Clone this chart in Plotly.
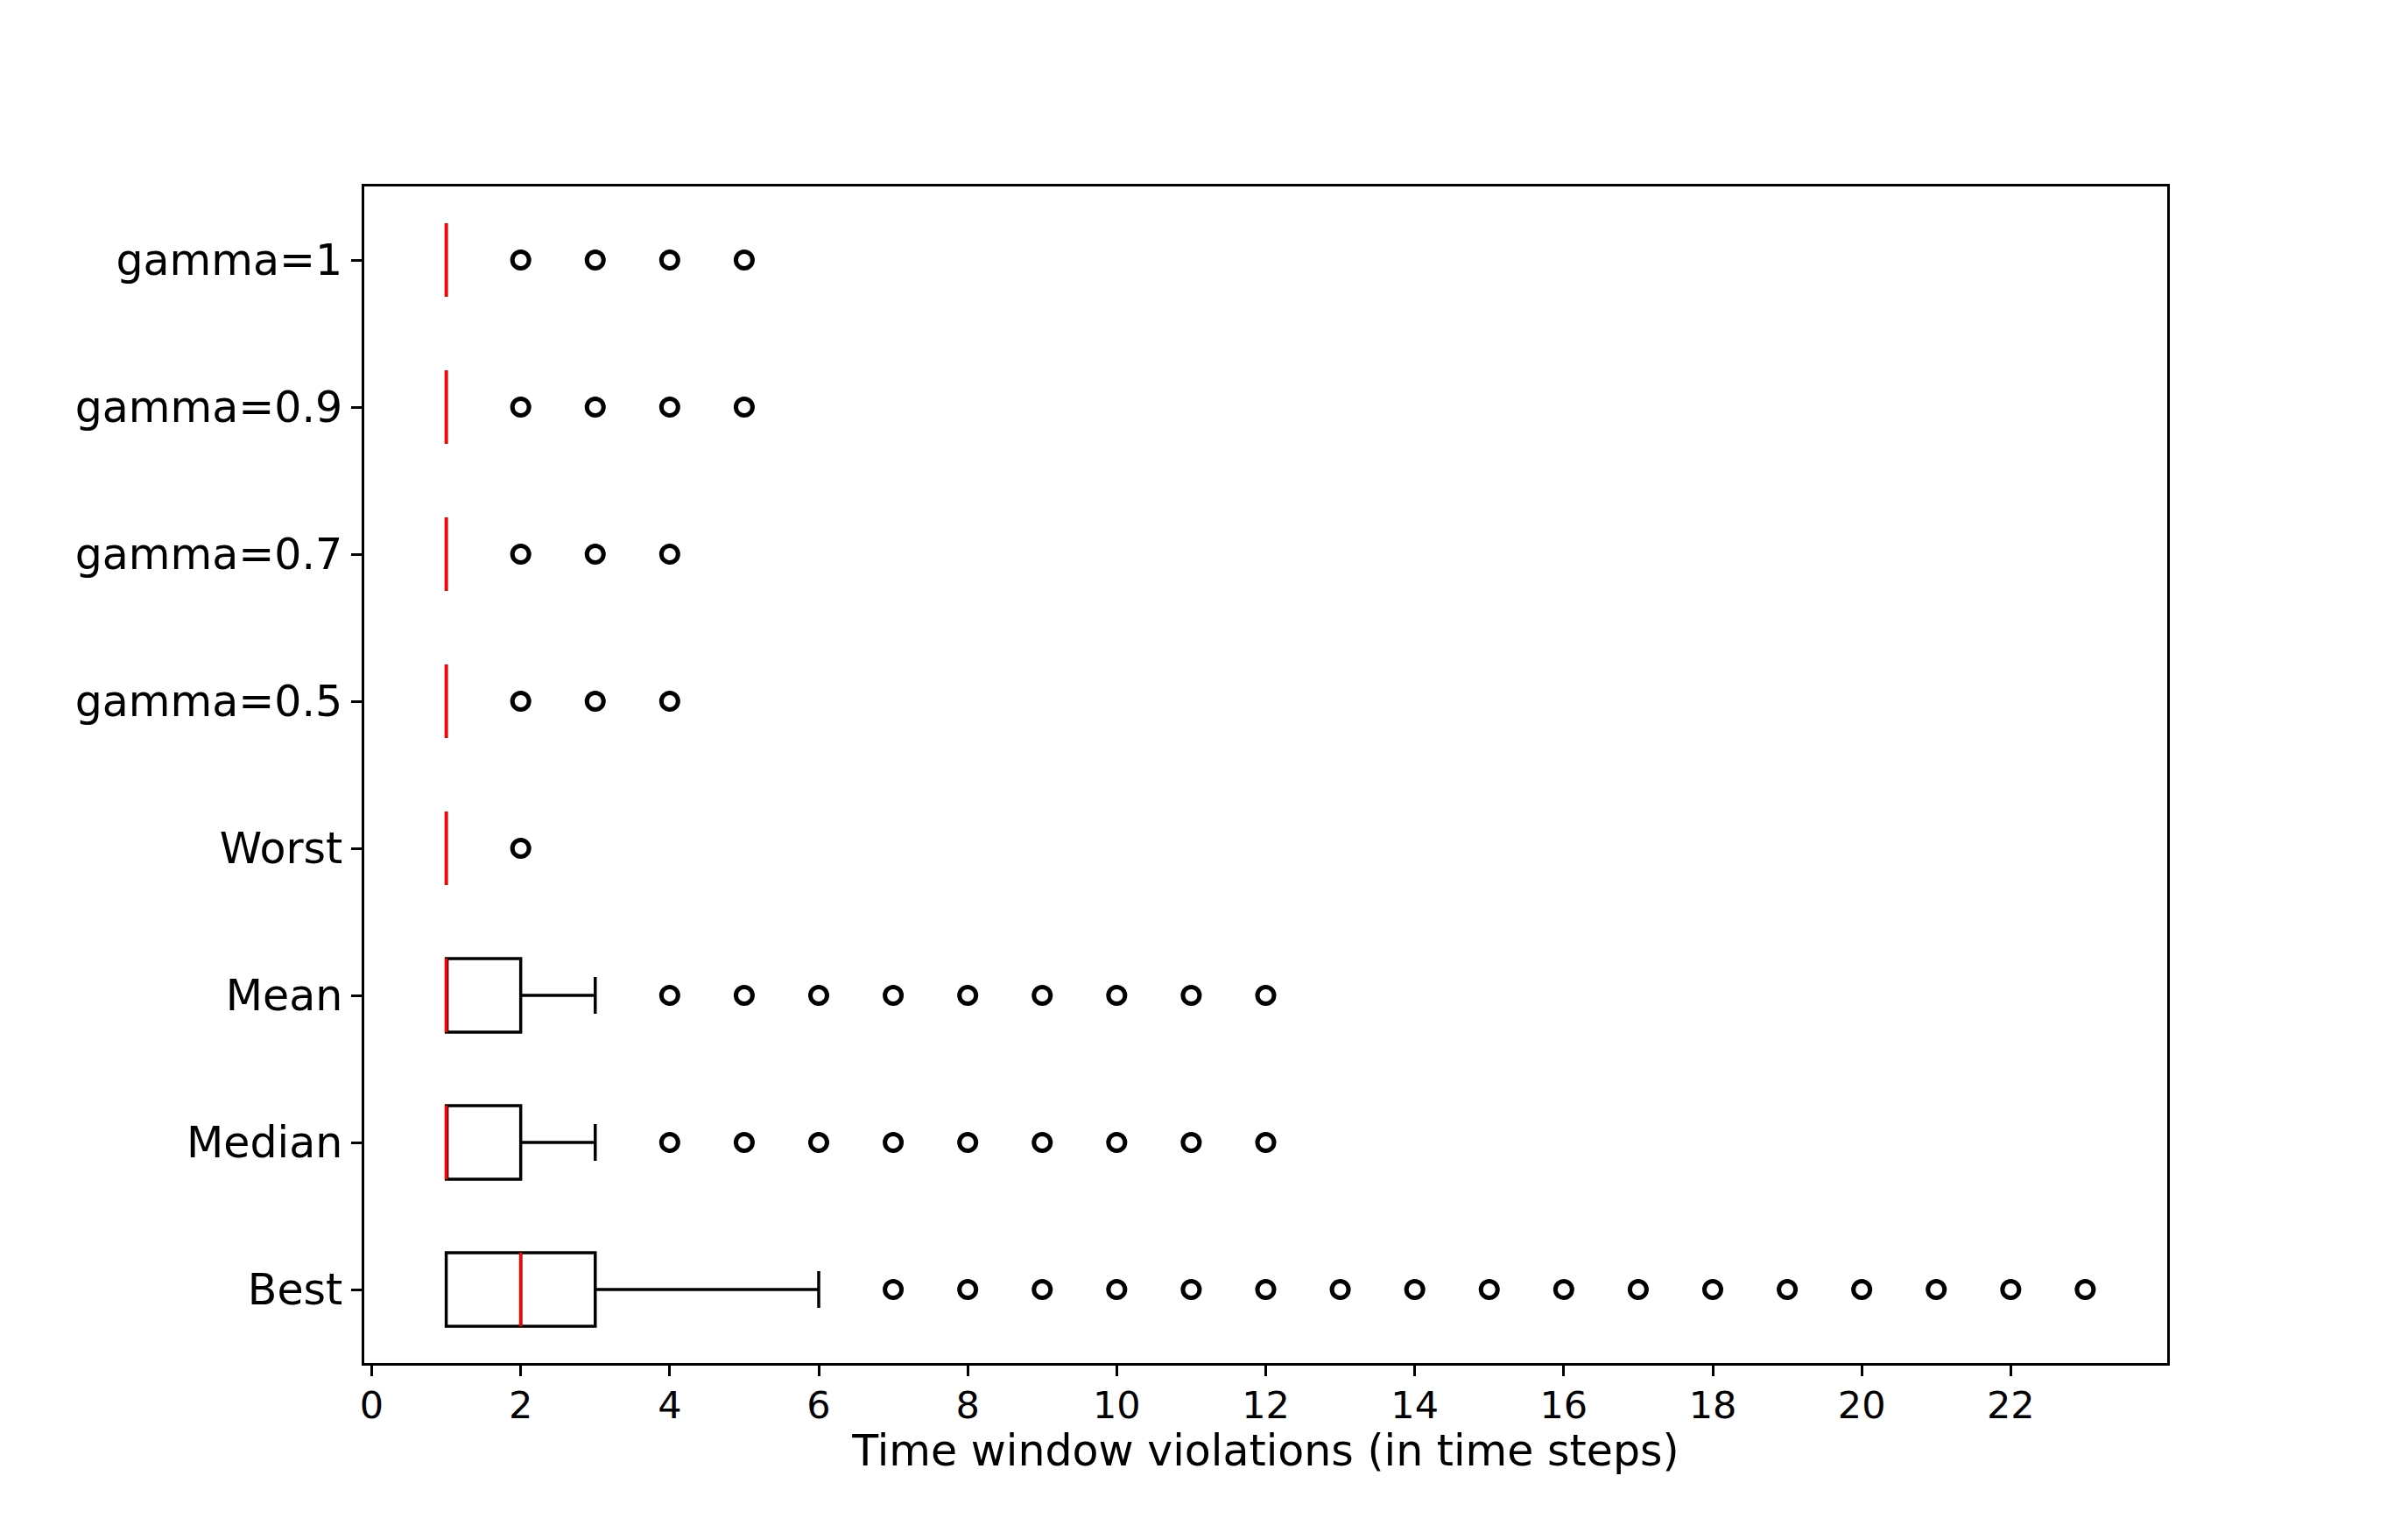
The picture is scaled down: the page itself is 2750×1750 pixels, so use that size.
import plotly.graph_objects as go

# Categorias (de baixo para cima, como no boxplot original)
categorias = ["Best", "Median", "Mean", "Worst", "gamma=0.5", "gamma=0.7", "gamma=0.9", "gamma=1"]
posicoes = [1, 2, 3, 4, 5, 6, 7, 8]

# Estatisticas das caixas
q1 = [1, 1, 1, 1, 1, 1, 1, 1]
mediana = [2, 1, 1, 1, 1, 1, 1, 1]
q3 = [3, 2, 2, 1, 1, 1, 1, 1]
whisk_inf = [1, 1, 1, 1, 1, 1, 1, 1]
whisk_sup = [6, 3, 3, 1, 1, 1, 1, 1]

# Outliers de cada categoria
outliers = [
    [7, 8, 9, 10, 11, 12, 13, 14, 15, 16, 17, 18, 19, 20, 21, 22, 23],
    [4, 5, 6, 7, 8, 9, 10, 11, 12],
    [4, 5, 6, 7, 8, 9, 10, 11, 12],
    [2],
    [2, 3, 4],
    [2, 3, 4],
    [2, 3, 4, 5],
    [2, 3, 4, 5],
]

xticks = list(range(0, 23, 2))
LARGURA = 0.5

fig = go.Figure()

for i, pos in enumerate(posicoes):
    fig.add_trace(go.Box(
        y=[pos], q1=[q1[i]], median=[mediana[i]], q3=[q3[i]],
        lowerfence=[whisk_inf[i]], upperfence=[whisk_sup[i]],
        orientation="h", width=LARGURA, whiskerwidth=0.5,
        fillcolor="rgba(0,0,0,0)", line=dict(color="black", width=3.5),
        boxpoints=False, showlegend=False, hoverinfo="skip",
    ))

# linha da mediana em vermelho
mx, my = [], []
for pos, m in zip(posicoes, mediana):
    mx += [m, m, None]
    my += [pos - LARGURA / 2, pos + LARGURA / 2, None]
fig.add_trace(go.Scatter(x=mx, y=my, mode="lines", line=dict(color="#ff0000", width=3.5),
                         showlegend=False, hoverinfo="skip"))

# outliers
for pos, vals in zip(posicoes, outliers):
    fig.add_trace(go.Scatter(
        x=vals, y=[pos] * len(vals), mode="markers",
        marker=dict(symbol="circle", size=19, color="rgba(0,0,0,0)",
                    line=dict(width=5, color="black")),
        showlegend=False,
    ))

fig.update_layout(
    width=2750, height=1750,
    margin=dict(l=408, r=283, t=205, b=201, pad=0),
    plot_bgcolor="white", paper_bgcolor="white",
    font=dict(family="DejaVu Sans", color="black"),
)
fig.update_xaxes(
    range=[-0.1, 24.1], tickvals=xticks, ticks="outside", ticklen=12, tickwidth=2.8,
    tickcolor="black", showline=True, linecolor="black", linewidth=2.8, mirror=True,
    showgrid=False, zeroline=False, tickfont=dict(size=43), ticklabelstandoff=-4,
    title=dict(text="Time window violations (in time steps)", font=dict(size=49), standoff=6),
)
fig.update_yaxes(
    range=[0.5, 8.5], tickvals=posicoes, ticktext=categorias, ticks="outside", ticklen=12,
    tickwidth=2.8, tickcolor="black", showline=True, linecolor="black", linewidth=2.8,
    mirror=True, showgrid=False, zeroline=False, tickfont=dict(size=49),
)

fig.write_html("out.html")
